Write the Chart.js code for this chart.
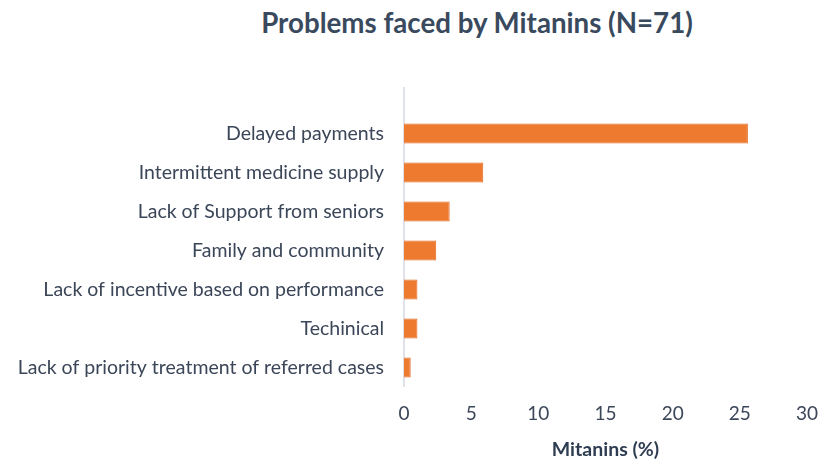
<!DOCTYPE html>
<html>
<head>
<meta charset="utf-8">
<script src="https://cdn.jsdelivr.net/npm/chart.js@4"></script>
<style>
  html, body { margin: 0; padding: 0; background: #fff; }
  #wrap { position: relative; width: 829px; height: 470px; }
  #title { position: absolute; left: 0; top: 6px; width: 954px; text-align: center;
           font-family: Lato, sans-serif; font-weight: bold; font-size: 27.7px; color: #3A4A5E; }
  canvas { position: absolute; left: 0; top: 0; }
</style>
</head>
<body>
<div id="wrap">
  <div id="title">Problems faced by Mitanins (N=71)</div>
  <canvas id="c" width="829" height="470"></canvas>
</div>
<script>
const categories = [
  "Delayed payments",
  "Intermittent medicine supply",
  "Lack of Support from seniors",
  "Family and community",
  "Lack of incentive based on performance",
  "Techinical",
  "Lack of priority treatment of referred cases"
];
const mitaninsPct = [25.6, 5.9, 3.4, 2.4, 1.0, 1.0, 0.5];
const xTicks = [0, 5, 10, 15, 20, 25, 30];
const xAxisTitle = "Mitanins (%)";

const axisLine = {
  id: 'axisLine',
  beforeDatasetsDraw(chart) {
    const { ctx, chartArea } = chart;
    const x = chart.scales.x.getPixelForValue(0);
    ctx.save();
    ctx.strokeStyle = '#D5DAE2';
    ctx.lineWidth = 1.5;
    ctx.beginPath();
    ctx.moveTo(x, chartArea.top - 27);
    ctx.lineTo(x, chartArea.bottom);
    ctx.stroke();
    ctx.restore();
  }
};

new Chart(document.getElementById('c'), {
  type: 'bar',
  data: {
    labels: categories,
    datasets: [{
      data: mitaninsPct,
      backgroundColor(ctx) {
        const chart = ctx.chart;
        if (!chart.chartArea) return '#EE7A30';
        const c2 = chart.ctx;
        const meta = chart.getDatasetMeta(0);
        const bar = meta.data[ctx.dataIndex];
        if (!bar || bar.y === undefined || isNaN(bar.y)) return '#EE7A30';
        const h = bar.height || 20;
        const g = c2.createLinearGradient(0, bar.y - h / 2, 0, bar.y + h / 2);
        g.addColorStop(0, '#F59A5C');
        g.addColorStop(0.45, '#F07E35');
        g.addColorStop(1, '#E2601A');
        return g;
      },
      borderColor: '#E2671F',
      borderWidth: 1,
      categoryPercentage: 1,
      barPercentage: 0.51
    }]
  },
  options: {
    indexAxis: 'y',
    responsive: false,
    animation: false,
    layout: { padding: { top: 114, right: 22, left: 0, bottom: 9 } },
    plugins: { legend: { display: false }, tooltip: { enabled: false } },
    scales: {
      y: {
        grid: { display: false, drawTicks: false },
        border: { display: false },
        ticks: { color: '#3B4658', font: { family: 'Lato', size: 19.5 }, padding: 20 },
        afterFit(scale) { scale.width = 404; }
      },
      x: {
        min: 0, max: 30,
        afterBuildTicks(scale) { scale.ticks = xTicks.map(v => ({ value: v })); },
        afterFit(scale) { scale.height = 74; scale.paddingRight = 0; },
        grid: { display: false, drawTicks: false },
        border: { display: false },
        ticks: { color: '#3B4658', font: { family: 'Lato', size: 19 }, padding: 15 },
        title: { display: true, text: xAxisTitle, color: '#2F3D52',
                 font: { family: 'Lato', size: 19.5, weight: 'bold' }, padding: { top: 10.5, bottom: 0 } }
      }
    }
  },
  plugins: [axisLine]
});
</script>
</body>
</html>
